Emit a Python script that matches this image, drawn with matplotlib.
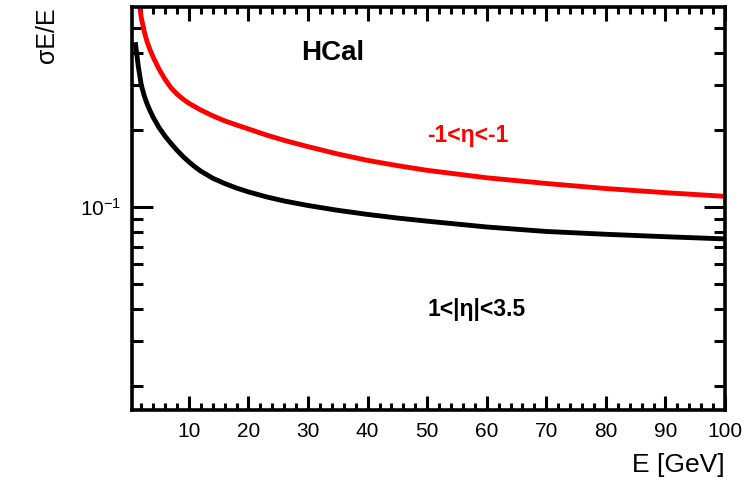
import matplotlib
matplotlib.use("Agg")
import matplotlib.pyplot as plt
from matplotlib.ticker import FixedLocator, NullFormatter, FixedFormatter, MultipleLocator

# =====================================
# Datos
# =====================================

energia_central = [1, 1.5, 2, 2.5, 3, 3.5, 4, 5, 6, 7, 8, 9, 10, 11, 12, 14, 16, 18, 20, 23, 26,
                   30, 35, 40, 45, 50, 60, 70, 80, 90, 100]
sigma_central = [0.44, 0.355, 0.30, 0.272, 0.252, 0.237, 0.224, 0.204, 0.189, 0.177, 0.1665,
                 0.1575, 0.150, 0.1435, 0.138, 0.1295, 0.1235, 0.1185, 0.1145, 0.1095, 0.1055,
                 0.1013, 0.097, 0.0935, 0.0905, 0.088, 0.0835, 0.0802, 0.0782, 0.0765, 0.075]

energia_forward = [1.7, 2, 2.5, 3, 3.5, 4, 5, 6, 7, 8, 9, 10, 12, 14, 16, 18, 20, 23, 26,
                   30, 35, 40, 45, 50, 60, 70, 80, 90, 100]
sigma_forward = [0.62, 0.55, 0.485, 0.44, 0.41, 0.385, 0.345, 0.315, 0.292, 0.276, 0.264,
                 0.254, 0.239, 0.227, 0.217, 0.209, 0.2017, 0.191, 0.182, 0.172, 0.161,
                 0.152, 0.145, 0.139, 0.130, 0.1235, 0.118, 0.1137, 0.110]

xticks_mayores = [10, 20, 30, 40, 50, 60, 70, 80, 90, 100]
yticks_menores = [0.02, 0.03, 0.04, 0.05, 0.06, 0.07, 0.08, 0.09, 0.2, 0.3, 0.4, 0.5]

plt.rcParams["font.family"] = ["Liberation Sans", "DejaVu Sans"]
plt.rcParams["mathtext.fontset"] = "custom"
plt.rcParams["mathtext.rm"] = "Liberation Sans"
plt.rcParams["mathtext.it"] = "Liberation Sans"

fig = plt.figure(figsize=(7.53, 4.86), dpi=100)
ax = fig.add_axes([0.1753, 0.1564, 0.9628 - 0.1753, 0.9856 - 0.1564])

ax.plot(energia_forward, sigma_forward, color="#ff0000", lw=3.5, solid_capstyle="butt")
ax.plot(energia_central, sigma_central, color="black", lw=3.5, solid_capstyle="butt")

ax.set_yscale("log")
ax.set_xlim(0.45, 100)
ax.set_ylim(0.0161, 0.604)

# ejes estilo ROOT
for s in ax.spines.values():
    s.set_linewidth(2.6)
    s.set_zorder(5)

ax.xaxis.set_major_locator(FixedLocator(xticks_mayores))
ax.xaxis.set_minor_locator(MultipleLocator(2))
ax.yaxis.set_major_locator(FixedLocator([0.1]))
ax.yaxis.set_major_formatter(FixedFormatter([r"$10^{-1}$"]))
ax.yaxis.set_minor_locator(FixedLocator(yticks_menores))
ax.yaxis.set_minor_formatter(NullFormatter())

ax.tick_params(axis="both", which="both", direction="in", top=True, right=True, width=2.2)
ax.tick_params(axis="x", which="major", length=10, labelsize=15, pad=9)
ax.tick_params(axis="x", which="minor", length=5)
ax.tick_params(axis="y", which="major", length=15, labelsize=15, pad=8)
ax.tick_params(axis="y", which="minor", length=8)

ax.set_xlabel("E [GeV]", fontsize=19, loc="right", labelpad=8)
ax.set_ylabel("σE/E", fontsize=18, loc="top", labelpad=15)

ax.text(0.285, 0.885, "HCal", transform=ax.transAxes, fontsize=20, fontweight="bold",
        ha="left", va="center")
ax.text(0.498, 0.682, "-1<η<-1", transform=ax.transAxes, fontsize=16.5, fontweight="bold",
        color="#ff0000", ha="left", va="center")
ax.text(0.498, 0.25, "1<|η|<3.5", transform=ax.transAxes, fontsize=16.5, fontweight="bold",
        color="black", ha="left", va="center")

fig.savefig("out.png", dpi=100)
